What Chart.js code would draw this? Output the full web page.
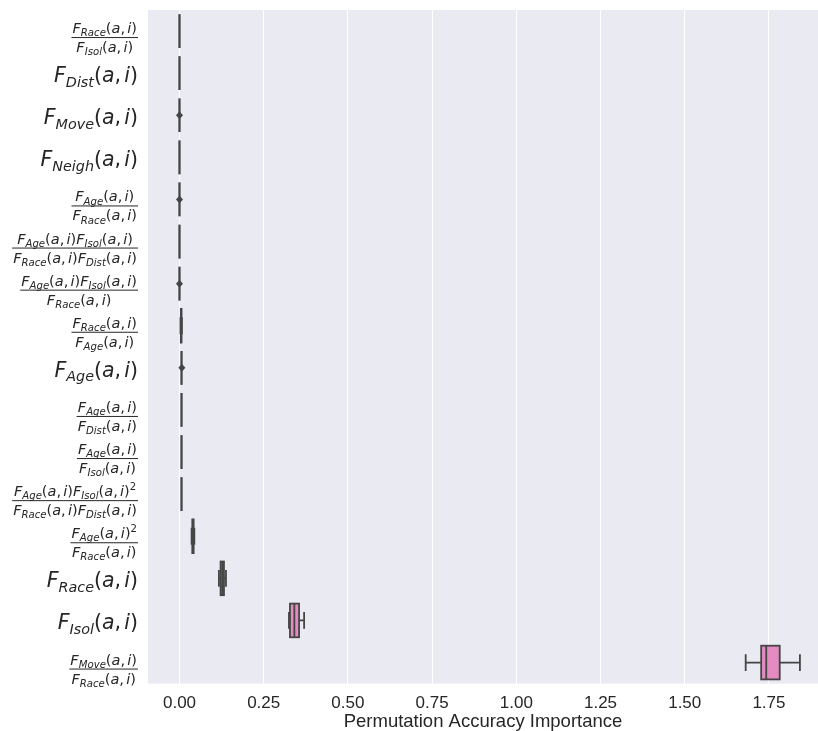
<!DOCTYPE html>
<html>
<head>
<meta charset="utf-8">
<script src="https://cdn.jsdelivr.net/npm/chart.js@4.4.1/dist/chart.umd.min.js"></script>
<style>
  html, body { margin: 0; padding: 0; background: #ffffff; }
  #wrap { width: 818px; height: 731px; }
</style>
</head>
<body>
<div id="wrap"><canvas id="boxChart"></canvas></div>
<script>
// categories, top to bottom ("/" splits numerator and denominator)
const categories = [
    'F_Race(a,i) / F_Isol(a,i)',
    'F_Dist(a,i)',
    'F_Move(a,i)',
    'F_Neigh(a,i)',
    'F_Age(a,i) / F_Race(a,i)',
    'F_Age(a,i)F_Isol(a,i) / F_Race(a,i)F_Dist(a,i)',
    'F_Age(a,i)F_Isol(a,i) / F_Race(a,i)',
    'F_Race(a,i) / F_Age(a,i)',
    'F_Age(a,i)',
    'F_Age(a,i) / F_Dist(a,i)',
    'F_Age(a,i) / F_Isol(a,i)',
    'F_Age(a,i)F_Isol(a,i)^2 / F_Race(a,i)F_Dist(a,i)',
    'F_Age(a,i)^2 / F_Race(a,i)',
    'F_Race(a,i)',
    'F_Isol(a,i)',
    'F_Move(a,i) / F_Race(a,i)'
];

// box plot statistics
const whiskerLow = [0, 0, 0, 0, 0, 0, 0, 0.003, 0.006, 0.006, 0.006, 0.006, 0.036, 0.117, 0.325, 1.681];
const q1Values   = [0, 0, 0, 0, 0, 0, 0, 0.004, 0.006, 0.006, 0.006, 0.006, 0.038, 0.122, 0.328, 1.727];
const medians    = [0, 0, 0, 0, 0, 0, 0, 0.005, 0.006, 0.006, 0.006, 0.006, 0.040, 0.127, 0.341, 1.742];
const q3Values   = [0, 0, 0, 0, 0, 0, 0, 0.006, 0.006, 0.006, 0.006, 0.006, 0.042, 0.132, 0.355, 1.782];
const whiskerHigh = [0, 0, 0, 0, 0, 0, 0, 0.007, 0.006, 0.006, 0.006, 0.006, 0.044, 0.138, 0.370, 1.842];
const outliers   = [[], [], [0.0], [], [0.0], [], [0.0], [], [0.007], [], [], [], [], [], [], []];

const xTicks = [0, 0.25, 0.5, 0.75, 1, 1.25, 1.5, 1.75];
const xTitle = 'Permutation Accuracy Importance';

const boxFill = '#e48cc2';
const boxEdge = '#454545';
const textColor = '#262626';

// plot background (seaborn darkgrid)
const bgPlugin = {
    id: 'bgPlugin',
    beforeDraw(chart) {
        const a = chart.chartArea;
        const ctx = chart.ctx;
        ctx.save();
        ctx.fillStyle = '#eaeaf2';
        ctx.fillRect(a.left, a.top, a.right - a.left, a.bottom - a.top);
        ctx.restore();
    }
};

// whiskers, caps, box outline, median and outliers
const boxPlugin = {
    id: 'boxPlugin',
    afterDatasetsDraw(chart) {
        const ctx = chart.ctx;
        const xs = chart.scales.x;
        const ys = chart.scales.y;
        const meta = chart.getDatasetMeta(0);
        ctx.save();
        ctx.strokeStyle = boxEdge;
        ctx.fillStyle = boxEdge;
        ctx.lineWidth = 1.8;
        categories.forEach((c, i) => {
            const yc = ys.getPixelForValue(i);
            const h = meta.data[i].height;
            const top = yc - h / 2;
            const xq1 = xs.getPixelForValue(q1Values[i]);
            const xq3 = xs.getPixelForValue(q3Values[i]);
            const xlo = xs.getPixelForValue(whiskerLow[i]);
            const xhi = xs.getPixelForValue(whiskerHigh[i]);
            const xmed = xs.getPixelForValue(medians[i]);
            ctx.beginPath();
            // whiskers
            ctx.moveTo(xlo, yc); ctx.lineTo(xq1, yc);
            ctx.moveTo(xq3, yc); ctx.lineTo(xhi, yc);
            // caps
            ctx.moveTo(xlo, yc - h / 4); ctx.lineTo(xlo, yc + h / 4);
            ctx.moveTo(xhi, yc - h / 4); ctx.lineTo(xhi, yc + h / 4);
            // median
            ctx.moveTo(xmed, top); ctx.lineTo(xmed, top + h);
            ctx.stroke();
            ctx.strokeRect(xq1, top, xq3 - xq1, h);
            // outliers (diamonds)
            outliers[i].forEach(v => {
                const ox = xs.getPixelForValue(v);
                ctx.beginPath();
                ctx.moveTo(ox, yc - 4);
                ctx.lineTo(ox + 3.5, yc);
                ctx.lineTo(ox, yc + 4);
                ctx.lineTo(ox - 3.5, yc);
                ctx.closePath();
                ctx.fill();
            });
        });
        ctx.restore();
    }
};

// math-style category labels
function termRuns(term, s) {
    const m = term.match(/F_(\w+)\(a,i\)(\^2)?/);
    const it = z => 'italic ' + z + 'px "DejaVu Sans"';
    const up = z => z + 'px "DejaVu Sans"';
    const runs = [
        { t: 'F', f: it(s), dy: 0 },
        { t: m[1], f: it(s * 0.7), dy: s * 0.22 },
        { t: '(', f: up(s), dy: 0 },
        { t: 'a', f: it(s), dy: 0 },
        { t: ',', f: up(s), dy: 0 },
        { t: ' ', f: up(s * 0.5), dy: 0 },
        { t: 'i', f: it(s), dy: 0 },
        { t: ')', f: up(s), dy: 0 }
    ];
    if (m[2]) runs.push({ t: '2', f: up(s * 0.7), dy: -s * 0.42 });
    return runs;
}

function exprRuns(expr, s) {
    const terms = expr.match(/F_\w+\(a,i\)(\^2)?/g);
    let runs = [];
    terms.forEach(t => { runs = runs.concat(termRuns(t, s)); });
    return runs;
}

function runsWidth(ctx, runs) {
    let w = 0;
    runs.forEach(r => { ctx.font = r.f; w += ctx.measureText(r.t).width; });
    return w;
}

function drawRuns(ctx, runs, x, baseline) {
    runs.forEach(r => {
        ctx.font = r.f;
        ctx.fillText(r.t, x, baseline + r.dy);
        x += ctx.measureText(r.t).width;
    });
}

const labelPlugin = {
    id: 'labelPlugin',
    afterDraw(chart) {
        const ctx = chart.ctx;
        const ys = chart.scales.y;
        const right = 138;
        ctx.save();
        ctx.fillStyle = textColor;
        ctx.strokeStyle = textColor;
        ctx.textAlign = 'left';
        ctx.textBaseline = 'alphabetic';
        categories.forEach((c, i) => {
            const yc = ys.getPixelForValue(i);
            const parts = c.split(' / ');
            if (parts.length === 1) {
                const runs = exprRuns(parts[0], 20.5);
                const w = runsWidth(ctx, runs);
                drawRuns(ctx, runs, right - w, yc + 9);
            } else {
                const s = 14.5;
                const num = exprRuns(parts[0], s);
                const den = exprRuns(parts[1], s);
                const wn = runsWidth(ctx, num);
                const wd = runsWidth(ctx, den);
                const W = Math.max(wn, wd) + 2;
                const barY = yc + 6;
                ctx.lineWidth = 1;
                ctx.beginPath();
                ctx.moveTo(right - W, barY + 0.5);
                ctx.lineTo(right, barY + 0.5);
                ctx.stroke();
                drawRuns(ctx, num, right - W / 2 - wn / 2, barY - 4);
                drawRuns(ctx, den, right - W / 2 - wd / 2, barY + 15);
            }
        });
        ctx.restore();
    }
};

const ctxBox = document.getElementById('boxChart').getContext('2d');

const boxChart = new Chart(ctxBox, {
    type: 'bar',
    data: {
        labels: categories,
        datasets: [{
            label: 'Permutation importance',
            data: q1Values.map((v, i) => [v, q3Values[i]]),
            backgroundColor: boxFill,
            borderWidth: 0,
            barPercentage: 0.8,
            categoryPercentage: 1
        }]
    },
    options: {
        indexAxis: 'y',
        responsive: true,
        maintainAspectRatio: false,
        animation: false,
        layout: { padding: { left: 148, top: 10, right: 0, bottom: 0 } },
        plugins: {
            legend: { display: false },
            tooltip: { enabled: false }
        },
        scales: {
            x: {
                type: 'linear',
                min: -0.0935,
                max: 1.8957,
                afterBuildTicks: scale => {
                    scale.ticks = xTicks.map(v => ({ value: v }));
                },
                ticks: {
                    padding: 11.7,
                    color: textColor,
                    font: { family: '"Liberation Sans", Arial, sans-serif', size: 17, lineHeight: 1.0 },
                    callback: v => Number(v).toFixed(2)
                },
                grid: { color: '#ffffff', lineWidth: 1, drawTicks: false },
                border: { display: false },
                title: {
                    display: true,
                    text: xTitle,
                    color: textColor,
                    font: { family: '"Liberation Sans", Arial, sans-serif', size: 18.5, lineHeight: 1.0 },
                    padding: { top: -11.5, bottom: 0 }
                }
            },
            y: {
                display: false
            }
        }
    },
    plugins: [bgPlugin, boxPlugin, labelPlugin]
});
</script>
</body>
</html>
